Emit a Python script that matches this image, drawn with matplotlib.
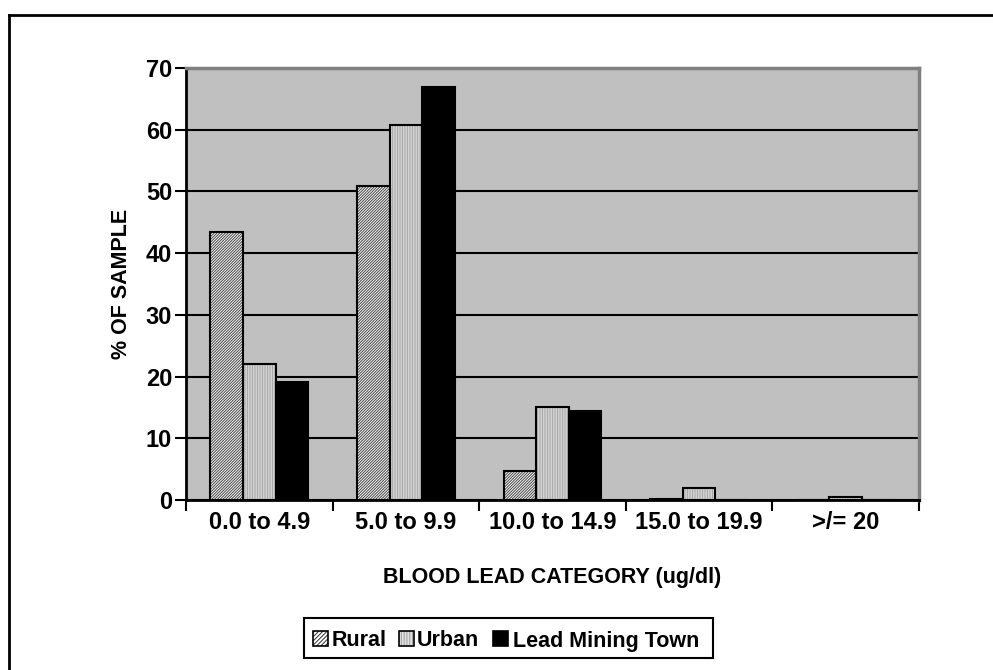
import numpy as np
import matplotlib
matplotlib.use("Agg")
import matplotlib.pyplot as plt
from matplotlib.patches import Rectangle
from matplotlib.lines import Line2D

categories = ["0.0 to 4.9", "5.0 to 9.9", "10.0 to 14.9", "15.0 to 19.9", ">/= 20"]
series_names = ["Rural", "Urban", "Lead Mining Town"]
rural = [43.5, 50.9, 4.7, 0.1, 0.0]
urban = [22.0, 60.7, 15.1, 1.9, 0.5]
lead_town = [19.1, 66.9, 14.4, 0.0, 0.0]
yticks = [0, 10, 20, 30, 40, 50, 60, 70]

plt.rcParams["font.family"] = ["Liberation Sans", "DejaVu Sans"]
plt.rcParams["font.weight"] = "bold"
plt.rcParams["hatch.linewidth"] = 0.7

W, H = 993, 670


def px(x, y):
    # pixel position (top-left origin) -> figure fraction
    return x / W, 1 - y / H


fig = plt.figure(figsize=(W / 100, H / 100), dpi=100)
fig.patch.set_facecolor("white")
ax = fig.add_axes([186 / W, 1 - 500 / H, (919 - 186) / W, (500 - 68) / H])
ax.set_facecolor("#c0c0c0")

x = np.arange(len(categories)) + 0.5
w = 0.2222

styles = [
    dict(facecolor="white", edgecolor="#404040", hatch="////////////"),
    dict(facecolor="#e6e6e6", edgecolor="#a8a8a8", hatch="||||||||||"),
    dict(facecolor="black", edgecolor="black", hatch=None),
]
for i, vals in enumerate([rural, urban, lead_town]):
    xs = x + (i - 1) * w
    ax.bar(xs, vals, width=w, linewidth=0, zorder=3, **styles[i])
    ax.bar(xs, vals, width=w, facecolor="none", edgecolor="black",
           linewidth=1.5, zorder=4)

ax.set_xlim(0, len(categories))
ax.set_ylim(0, 70)
ax.set_yticks(yticks)
ax.yaxis.grid(True, color="black", linewidth=1.5, zorder=1)
ax.set_axisbelow(True)

ax.set_xticks(np.arange(len(categories) + 1))
ax.set_xticklabels([])
ax.set_xticks(x, minor=True)
ax.set_xticklabels(categories, minor=True, fontsize=17, fontweight="bold")
ax.tick_params(axis="x", which="minor", length=0, pad=8)
ax.tick_params(axis="x", which="major", length=8, width=1.5, direction="out")
ax.tick_params(axis="y", length=8, width=1.5, direction="out", labelsize=17, pad=2)

for s in ["left", "bottom"]:
    ax.spines[s].set_linewidth(2)
    ax.spines[s].set_color("black")
for s in ["top", "right"]:
    ax.spines[s].set_linewidth(2.5)
    ax.spines[s].set_color("#808080")

ax.set_ylabel("% OF SAMPLE", fontsize=15.5, fontweight="bold", labelpad=10)
ax.set_xlabel("BLOOD LEAD CATEGORY (ug/dl)", fontsize=15.5, fontweight="bold", labelpad=24)

# legend drawn by hand so the three labels share one baseline
x0, y0 = px(304, 658)
x1, y1 = px(713, 618)
fig.add_artist(Rectangle((x0, y0), x1 - x0, y1 - y0, transform=fig.transFigure,
                         facecolor="white", edgecolor="black", linewidth=1.5))
legend_styles = [
    dict(facecolor="white", edgecolor="#303030", hatch="////////"),
    dict(facecolor="#e0e0e0", edgecolor="#a0a0a0", hatch="||||||"),
    dict(facecolor="black", edgecolor="black", hatch=None),
]
square_left = [313, 399, 493]
text_left = [332, 417, 513]
for name, sty, sq, tx in zip(series_names, legend_styles, square_left, text_left):
    sx0, sy0 = px(sq, 646)
    sx1, sy1 = px(sq + 15, 631)
    fig.add_artist(Rectangle((sx0, sy0), sx1 - sx0, sy1 - sy0, transform=fig.transFigure,
                             linewidth=0, **sty))
    fig.add_artist(Rectangle((sx0, sy0), sx1 - sx0, sy1 - sy0, transform=fig.transFigure,
                             facecolor="none", edgecolor="black", linewidth=1.2))
    tx_f, ty_f = px(tx, 646.5)
    fig.text(tx_f, ty_f, name, fontsize=15.5, fontweight="bold", va="baseline", ha="left")

# outer chart frame (only left and top visible in the crop)
fig.add_artist(Line2D([8.5 / W, 8.5 / W], [0, 1 - 15 / H], color="black", linewidth=2))
fig.add_artist(Line2D([8.5 / W, 1], [1 - 15 / H, 1 - 15 / H], color="black", linewidth=2))

plt.savefig("out.png", dpi=100, facecolor=fig.get_facecolor())
plt.close(fig)
